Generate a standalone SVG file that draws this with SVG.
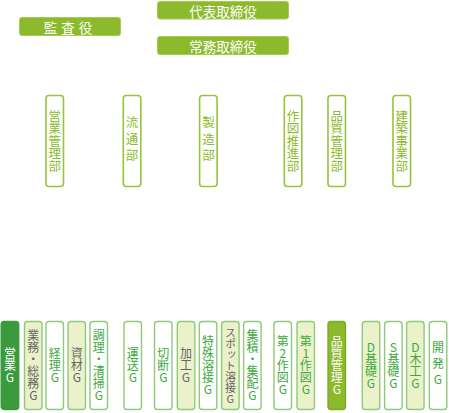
<svg xmlns="http://www.w3.org/2000/svg" width="449" height="413" viewBox="0 0 449 413">
<style>
text{font-family:"Noto Sans CJK JP","Noto Sans",sans-serif;}
.top rect{fill:#8cba2c;stroke:#a5cc55;stroke-width:1;}
.top text{fill:#fff;font-size:13.5px;text-anchor:middle;dominant-baseline:central;}
.dept rect{fill:#fff;stroke:#96c43a;stroke-width:1.6;}
.dept text{fill:#8cba2c;font-size:12.5px;writing-mode:vertical-rl;text-orientation:upright;text-anchor:middle;}
.grp rect{stroke:#8fca78;stroke-width:1.4;}
.grp text{font-size:12px;writing-mode:vertical-rl;text-orientation:upright;text-anchor:middle;}
.w rect{fill:#fff;}
.l rect{fill:#ebf2cb;}
.g text{fill:#3ea83e;}
.k text{fill:#666;}
</style>
<g id="top-nodes" class="top">
<g id="daihyo"><rect x="157.5" y="1.5" width="131" height="17.5" rx="2.5"/><text x="223" y="10.5">代表取締役</text></g>
<g id="kansa"><rect x="19.5" y="17.5" width="101" height="18" rx="2.5"/><text x="70" y="26.5" style="letter-spacing:4px">監査役</text></g>
<g id="jomu"><rect x="157.5" y="36.5" width="131" height="18" rx="2.5"/><text x="223" y="45.5">常務取締役</text></g>
</g>
<g id="connectors"></g>
<g id="departments" class="dept">
<g id="eigyo-kanri"><rect x="46" y="95.5" width="17.5" height="91" rx="3"/><text x="54.75" y="141">営業管理部</text></g>
<g id="ryutsu"><rect x="123.3" y="95.5" width="17.5" height="91" rx="3"/><text x="132" y="141" style="letter-spacing:4px">流通部</text></g>
<g id="seizo"><rect x="199.6" y="95.5" width="17.5" height="91" rx="3"/><text x="208.4" y="141" style="letter-spacing:4px">製造部</text></g>
<g id="sakuzu-suishin"><rect x="284.3" y="95.5" width="17.5" height="91" rx="3"/><text x="293" y="141">作図推進部</text></g>
<g id="hinshitsu-kanri"><rect x="328" y="95.5" width="17.5" height="91" rx="3"/><text x="336.8" y="141">品質管理部</text></g>
<g id="kenchiku-jigyo"><rect x="393" y="95.5" width="17.5" height="91" rx="3"/><text x="401.8" y="141">建築事業部</text></g>
</g>
<g id="groups" class="grp">
<g id="g-eigyo"><rect x="1.2" y="321.5" width="17.5" height="88" rx="3" style="fill:#3a9a3c;stroke:#3a9a3c"/><text x="10" y="365.5" style="fill:#fff">営業G</text></g>
<g id="g-gyomu" class="l k"><rect x="24.5" y="321.5" width="17.5" height="88" rx="3"/><text x="33.3" y="365.5">業務・総務G</text></g>
<g id="g-keiri" class="w g"><rect x="46" y="321.5" width="17.5" height="88" rx="3"/><text x="54.8" y="365.5">経理G</text></g>
<g id="g-shizai" class="l k"><rect x="68" y="321.5" width="17.5" height="88" rx="3"/><text x="76.8" y="365.5">資材G</text></g>
<g id="g-chori" class="w g"><rect x="90" y="321.5" width="17.5" height="88" rx="3"/><text x="98.8" y="365.5">調理・清掃G</text></g>
<g id="g-unso" class="w g"><rect x="124" y="321.5" width="17.5" height="88" rx="3"/><text x="132.8" y="365.5">運送G</text></g>
<g id="g-setsudan" class="w g"><rect x="154.5" y="321.5" width="17.5" height="88" rx="3"/><text x="163.3" y="365.5">切断G</text></g>
<g id="g-kako" class="l k"><rect x="177.3" y="321.5" width="17.5" height="88" rx="3"/><text x="186" y="365.5">加工G</text></g>
<g id="g-tokushu" class="w g"><rect x="199.3" y="321.5" width="17.5" height="88" rx="3"/><text x="208" y="365.5">特殊溶接G</text></g>
<g id="g-spot" class="l k"><rect x="221.6" y="321.5" width="17.5" height="88" rx="3"/><text x="230.4" y="365.5" style="font-size:11px">スポット溶接G</text></g>
<g id="g-shuseki" class="w g"><rect x="243.6" y="321.5" width="17.5" height="88" rx="3"/><text x="252.4" y="365.5">集積・集配G</text></g>
<g id="g-sakuzu2" class="w g"><rect x="274" y="321.5" width="17.5" height="88" rx="3"/><text x="282.8" y="365.5">第2作図G</text></g>
<g id="g-sakuzu1" class="l g"><rect x="297" y="321.5" width="17.5" height="88" rx="3"/><text x="305.8" y="365.5">第1作図G</text></g>
<g id="g-hinshitsu"><rect x="328" y="321.5" width="17.5" height="88" rx="3" style="fill:#8cba2c;stroke:#7aaa28"/><text x="336.8" y="365.5" style="fill:#fff">品質管理G</text></g>
<g id="g-dkiso" class="l g"><rect x="362.3" y="321.5" width="17.5" height="88" rx="3"/><text x="371" y="365.5">D基礎G</text></g>
<g id="g-skiso" class="w g"><rect x="384.6" y="321.5" width="17.5" height="88" rx="3"/><text x="393.4" y="365.5">S基礎G</text></g>
<g id="g-dmokko" class="l g"><rect x="406.6" y="321.5" width="17.5" height="88" rx="3"/><text x="415.4" y="365.5">D木工G</text></g>
<g id="g-kaihatsu" class="w g"><rect x="429.3" y="321.5" width="17.5" height="88" rx="3"/><text x="438" y="365.5" style="letter-spacing:4px">開発G</text></g>
</g>
</svg>
